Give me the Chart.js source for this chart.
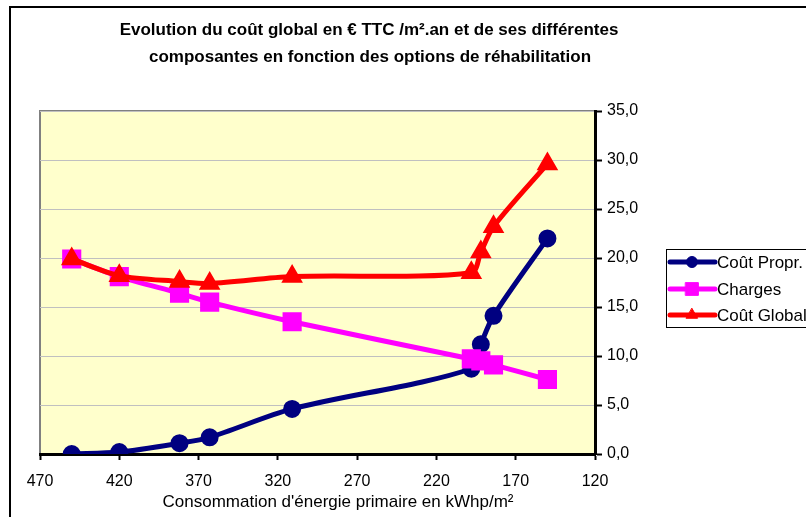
<!DOCTYPE html>
<html>
<head>
<meta charset="utf-8">
<script src="https://cdn.jsdelivr.net/npm/chart.js@4.4.1/dist/chart.umd.min.js"></script>
<style>
  html, body { margin: 0; padding: 0; background: #fff; }
  #wrap { width: 806px; height: 517px; position: relative; }
</style>
</head>
<body>
<div id="wrap"><canvas id="c" width="806" height="517"></canvas></div>
<script>
// Primary energy consumption of each rehabilitation option (kWhp/m²)
const energy = [450, 420, 382, 363, 311, 198, 192, 184, 150];
// Cost components in € TTC /m².an
const coutPropre = [0.0, 0.2, 1.1, 1.7, 4.6, 8.7, 11.2, 14.1, 22.0];
const charges    = [19.9, 18.1, 16.4, 15.5, 13.5, 9.7, 9.5, 9.1, 7.6];
const coutGlobal = [19.9, 18.2, 17.6, 17.4, 18.1, 18.5, 20.6, 23.2, 29.6];

const seriesNames = ['Coût Propr.', 'Charges', 'Coût Global'];
const xTicks = [470, 420, 370, 320, 270, 220, 170, 120];
const yTicks = [0, 5, 10, 15, 20, 25, 30, 35];

const titleLines = [
  'Evolution du coût global en € TTC /m².an et de ses différentes',
  'composantes en fonction des options de réhabilitation'
];
const xTitle = "Consommation d'énergie primaire en kWhp/m²";

const FONT = '"Liberation Sans", Arial, sans-serif';

const toPoints = vals => energy.map((e, i) => ({ x: e, y: vals[i] }));

// Background, frame, titles and legend drawn around the plot
const decorations = {
  id: 'decorations',
  beforeDraw(chart) {
    const { ctx, chartArea: a } = chart;
    ctx.save();
    ctx.fillStyle = '#fff';
    ctx.fillRect(0, 0, chart.width, chart.height);
    // outer frame
    ctx.strokeStyle = '#000';
    ctx.lineWidth = 2;
    ctx.beginPath();
    ctx.moveTo(806, 7); ctx.lineTo(10, 7); ctx.lineTo(10, 517);
    ctx.stroke();
    // plot area
    ctx.fillStyle = '#FFFFCC';
    ctx.fillRect(a.left, a.top, a.right - a.left, a.bottom - a.top);
    ctx.strokeStyle = '#808080';
    ctx.lineWidth = 2;
    ctx.beginPath();
    ctx.moveTo(a.left, a.bottom); ctx.lineTo(a.left, a.top); ctx.lineTo(a.right, a.top);
    ctx.stroke();
    ctx.restore();
  },
  afterDraw(chart) {
    const { ctx } = chart;
    ctx.save();
    ctx.fillStyle = '#000';
    ctx.textAlign = 'center';
    ctx.textBaseline = 'middle';
    ctx.font = 'bold 17px ' + FONT;
    ctx.fillText(titleLines[0], 369, 30);
    ctx.fillText(titleLines[1], 370, 57);
    ctx.font = '17px ' + FONT;
    ctx.fillText(xTitle, 338, 502);

    // legend
    ctx.strokeStyle = '#000';
    ctx.lineWidth = 1;
    ctx.strokeRect(666.5, 249.5, 200, 78);
    const rows = [262, 289, 315];
    chart.data.datasets.forEach((ds, i) => {
      const y = rows[i];
      ctx.strokeStyle = ds.borderColor;
      ctx.lineWidth = ds.borderWidth;
      ctx.lineCap = 'round';
      ctx.beginPath();
      ctx.moveTo(670, y); ctx.lineTo(715, y);
      ctx.stroke();
      ctx.fillStyle = ds.pointBackgroundColor;
      ctx.strokeStyle = ds.pointBorderColor;
      ctx.lineWidth = 1;
      Chart.helpers.drawPoint(ctx, {
        pointStyle: ds.pointStyle, radius: ds.pointRadius - 1, borderWidth: 1, rotation: 0
      }, 692, y);
      ctx.fillStyle = '#000';
      ctx.textAlign = 'left';
      ctx.font = '17px ' + FONT;
      ctx.fillText(ds.label, 717, y + 1);
    });
    ctx.restore();
  }
};

const mkSet = (label, vals, color, style, radius, width, order) => ({
  label,
  data: toPoints(vals),
  borderColor: color,
  backgroundColor: color,
  pointBackgroundColor: color,
  pointBorderColor: color,
  pointStyle: style,
  pointRadius: radius,
  borderWidth: width,
  tension: 0.3,
  order
});

new Chart(document.getElementById('c'), {
  type: 'line',
  data: {
    datasets: [
      mkSet(seriesNames[0], coutPropre, '#000080', 'circle', 6.5, 5, 3),
      mkSet(seriesNames[1], charges, '#FF00FF', 'rect', 10, 5, 2),
      mkSet(seriesNames[2], coutGlobal, '#FF0000', 'triangle', 7.5, 5, 1)
    ]
  },
  options: {
    responsive: false,
    animation: false,
    devicePixelRatio: 1,
    layout: { padding: { left: 40, top: 111, right: 151, bottom: 5 } },
    plugins: {
      legend: { display: false },
      title: { display: false },
      tooltip: { enabled: false }
    },
    scales: {
      x: {
        type: 'linear',
        reverse: true,
        min: 120,
        max: 470,
        afterBuildTicks: s => { s.ticks = xTicks.map(v => ({ value: v })); },
        ticks: {
          color: '#000',
          font: { family: FONT, size: 16 },
          padding: 12,
          maxRotation: 0,
          callback: v => String(v)
        },
        grid: {
          drawOnChartArea: false,
          drawTicks: true,
          tickLength: 6,
          tickColor: '#000',
          tickWidth: 2
        },
        border: { display: true, color: '#000', width: 3 },
        afterFit: s => { s.height = 58; }
      },
      y: {
        type: 'linear',
        position: 'right',
        min: 0,
        max: 35,
        afterBuildTicks: s => { s.ticks = yTicks.map(v => ({ value: v })); },
        ticks: {
          color: '#000',
          font: { family: FONT, size: 16 },
          padding: 5,
          callback: v => v.toFixed(1).replace('.', ',')
        },
        grid: {
          color: '#c0c0c0',
          lineWidth: 1,
          drawTicks: true,
          tickLength: 7,
          tickColor: '#000',
          tickWidth: 2
        },
        border: { display: true, color: '#000', width: 3 },
        afterFit: s => { s.width = 60; }
      }
    }
  },
  plugins: [decorations]
});
</script>
</body>
</html>
